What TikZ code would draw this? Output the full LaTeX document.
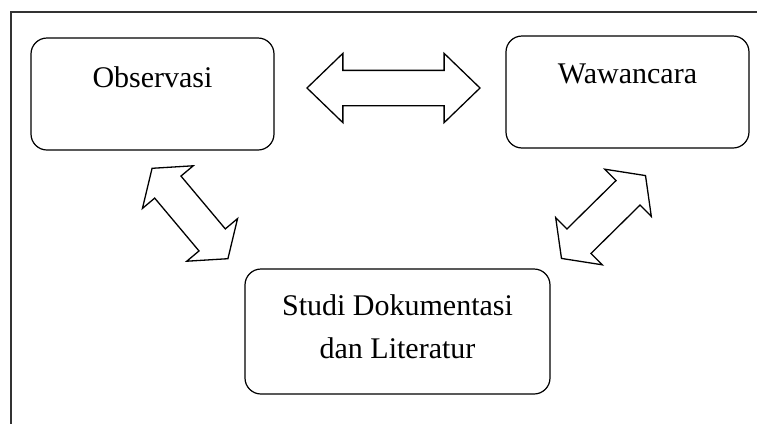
\documentclass[tikz,border=0pt]{standalone}
\usepackage{fontspec}
\setmainfont{Liberation Serif}
\usetikzlibrary{positioning, shapes.arrows}
\definecolor{framegray}{HTML}{333333}

\begin{document}
\begin{tikzpicture}[
      x=0.5pt, y=-0.5pt,
      box/.style={rectangle, rounded corners=8pt, draw=black, line width=0.6pt,
                  minimum width=121.5pt, minimum height=56pt, inner sep=0pt},
      lbl/.style={inner sep=0pt, align=center, font=\fontsize{15}{21.5}\selectfont},
      dblarr/.style={double arrow, draw=black, line width=0.65pt, inner xsep=0pt,
                     double arrow head indent=0pt},
      flat/.style={minimum height=86.5pt, inner ysep=8.5pt,
                   double arrow head extend=8.5pt, double arrow tip angle=88},
      slant/.style={minimum height=59pt, inner ysep=8.25pt,
                    double arrow head extend=8pt, double arrow tip angle=107}
    ]
      \useasboundingbox (0,0) rectangle (757,424);
      \draw[framegray, line width=0.7pt] (11,424) -- (11,12) -- (757,12);

      \node[box] (obs) at (152.5,94) {};
      \node[box] (waw) at (627.5,92) {};
      \node[box, minimum width=152.5pt, minimum height=62.5pt] (studi) at (397.5,331.5) {};

      \node[lbl, below=14.25pt of obs.north] (obstxt) {Observasi};
      \node[lbl, below=14pt of waw.north] (wawtxt) {Wawancara};
      \node[lbl, below=12.75pt of studi.north] (studitxt) {Studi Dokumentasi\\dan Literatur};

      \node[dblarr, flat] (obswaw) at (393.5,88) {};
      \node[dblarr, slant, rotate=-50] (obsstudi) at (190,213.5) {};
      \node[dblarr, slant, rotate=44.6] (wawstudi) at (603.5,217) {};
    \end{tikzpicture}
\end{document}
